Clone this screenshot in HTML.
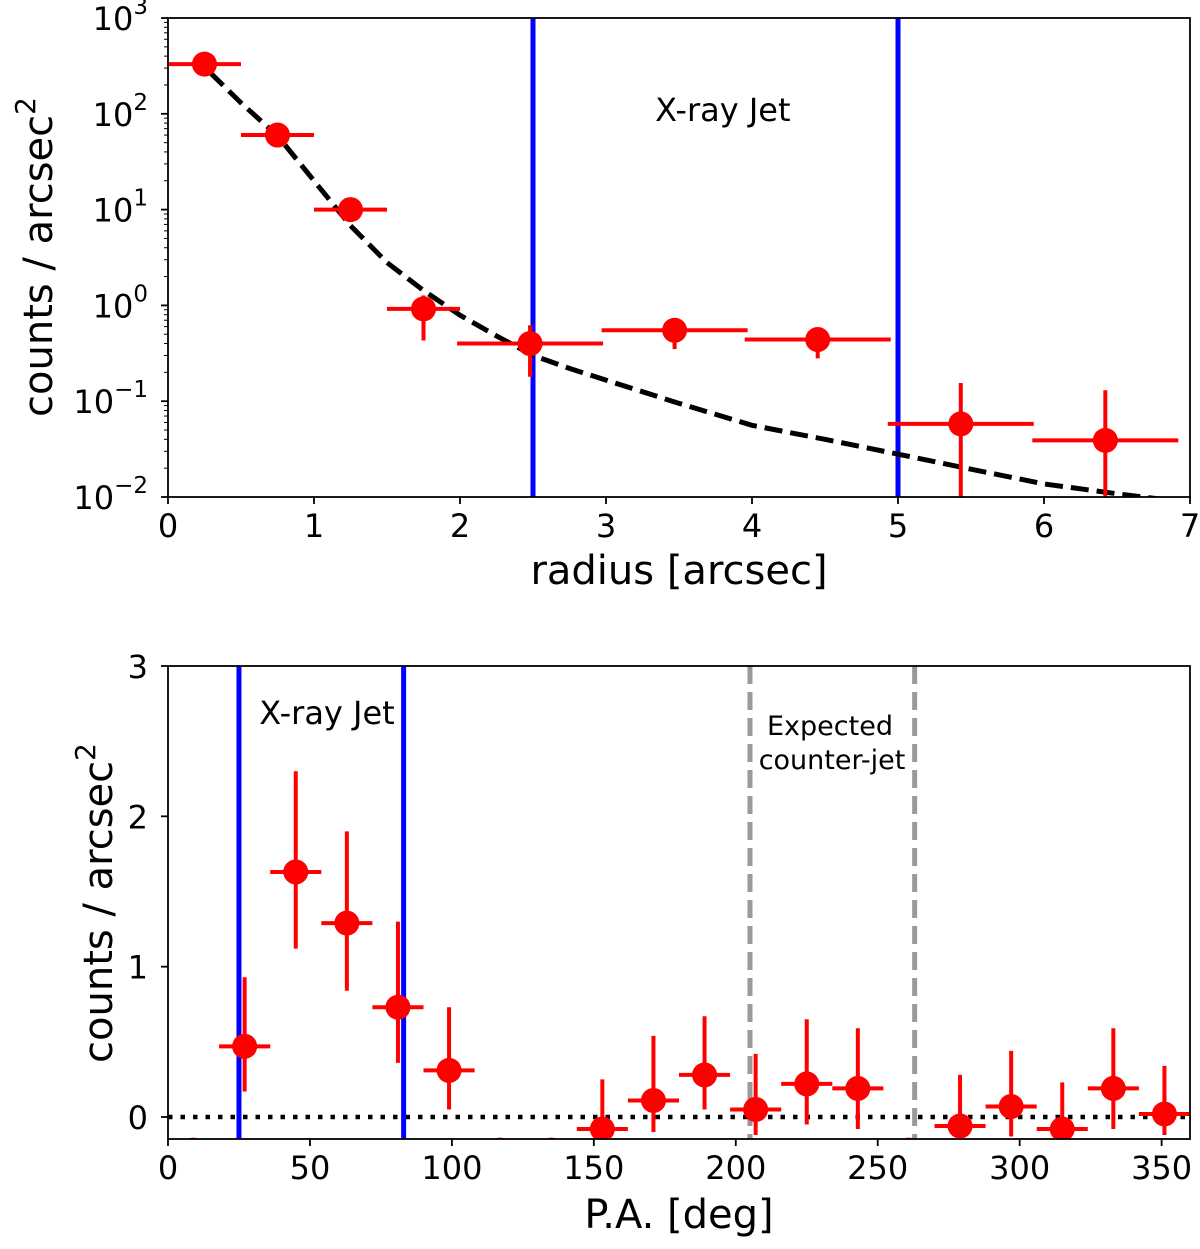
<!DOCTYPE html>
<html><head><meta charset="utf-8"><style>
body{margin:0;background:#fff}
svg{display:block;font-family:"DejaVu Sans","Liberation Sans",sans-serif}
</style></head><body>
<svg id="s" width="1200" height="1249" viewBox="0 0 1200 1249"></svg>
<script>
// Top panel data
const rX=[0.25,0.75,1.25,1.75,2.48,3.47,4.45,5.43,6.42];
const rXerr=[0.25,0.25,0.25,0.25,0.5,0.5,0.5,0.5,0.5];
const rY=[330,60,10,0.92,0.4,0.55,0.44,0.058,0.039];
const rLo=[300,52,8.5,0.43,0.18,0.35,0.28,0.005,0.005];
const rHi=[360,68,11.5,1.27,0.62,0.7,0.58,0.155,0.13];
const modelX=[0.29,0.5,0.75,1,1.25,1.5,1.75,2,2.25,2.5,2.75,3,3.5,4,4.5,5,5.5,6,6.5,6.8];
const modelY=[268,130,59,20,6.8,2.8,1.43,0.79,0.48,0.30,0.22,0.166,0.095,0.056,0.040,0.028,0.0195,0.0137,0.0108,0.0095];
const rXticks=[0,1,2,3,4,5,6,7];
const rYexp=[-2,-1,0,1,2,3];
// Bottom panel data
const pX=[9,27,45,63,81,99,117,135,153,171,189,207,225,243,261,279,297,315,333,351];
const pY=[-0.22,0.47,1.63,1.29,0.73,0.31,-0.22,-0.22,-0.08,0.11,0.28,0.05,0.22,0.19,-0.22,-0.06,0.07,-0.08,0.19,0.02];
const pLo=[-0.3,0.17,1.12,0.84,0.36,0.05,-0.3,-0.3,-0.3,-0.1,0.05,-0.12,-0.05,-0.08,-0.3,-0.3,-0.13,-0.3,-0.08,-0.12];
const pHi=[-0.2,0.93,2.3,1.9,1.3,0.73,-0.2,-0.2,0.25,0.54,0.67,0.42,0.65,0.59,-0.2,0.28,0.44,0.23,0.59,0.34];
const pXticks=[0,50,100,150,200,250,300,350];
const pYticks=[0,1,2,3];

const s=document.getElementById('s');const NS='http://www.w3.org/2000/svg';
function el(t,a,p){const e=document.createElementNS(NS,t);for(const k in a)e.setAttribute(k,a[k]);(p||s).appendChild(e);return e;}
function txt(x,y,str,size,anchor,name,p){const e=el('text',{x:x,y:y,'font-size':size,'text-anchor':anchor||'middle',fill:'#000'},p);e.textContent=str;return e;}
const TF=32, AF=40;

// ---- top
const L=168,R=1190,T1=18,B1=497;
const sx1=v=>L+(v/7)*(R-L);
const sy1=v=>B1-(Math.log10(v)+2)/5*(B1-T1);
el('defs',{}).innerHTML='<clipPath id="c1"><rect x="168" y="18" width="1022" height="479"/></clipPath><clipPath id="c2"><rect x="168" y="666" width="1022" height="473"/></clipPath>';
const g1=el('g',{'clip-path':'url(#c1)'});

[2.5,5].forEach(v=>{const l=el('line',{x1:sx1(v),x2:sx1(v),y1:T1,y2:B1,stroke:'#0000ff','stroke-width':5},g1);});
const mp=el('polyline',{points:modelX.map((x,i)=>sx1(x)+','+sy1(modelY[i])).join(' '),fill:'none',stroke:'#000','stroke-width':5,'stroke-dasharray':'18,8','stroke-linejoin':'round'},g1);

rX.forEach((x,i)=>{const g=el('g',{},g1);
el('line',{x1:sx1(x-rXerr[i]),x2:sx1(x+rXerr[i]),y1:sy1(rY[i]),y2:sy1(rY[i]),stroke:'#f00','stroke-width':4},g);
el('line',{x1:sx1(x),x2:sx1(x),y1:sy1(rLo[i]),y2:sy1(rHi[i]),stroke:'#f00','stroke-width':4},g);
el('circle',{cx:sx1(x),cy:sy1(rY[i]),r:12.5,fill:'#f00'},g);});
const f1=el('rect',{x:L,y:T1,width:R-L,height:B1-T1,fill:'none',stroke:'#000','stroke-width':1.8});
rXticks.forEach(v=>{el('line',{x1:sx1(v),x2:sx1(v),y1:B1,y2:B1+7,stroke:'#000','stroke-width':1.8});txt(sx1(v),537,String(v),TF,'middle','x-tick-label');});
rYexp.forEach(e=>{const y=sy1(Math.pow(10,e));el('line',{x1:L-7,x2:L,y1:y,y2:y,stroke:'#000','stroke-width':1.8});
 const t=txt(L-20,y+12,'',TF,'end','y-tick-label');t.innerHTML='10<tspan dy="-16" font-size="23">'+(e<0?'\u2212'+(-e):e)+'</tspan>';
 if(e<3)for(let k=2;k<10;k++){const yy=sy1(k*Math.pow(10,e));el('line',{x1:L-4,x2:L,y1:yy,y2:yy,stroke:'#000','stroke-width':1});}});
txt(sx1(3.8),121,'X-ray Jet',32,'middle','jet-annotation');
txt(sx1(3.5),584,'radius [arcsec]',AF,'middle','x-axis-title');
const yt1=txt(0,0,'',AF,'middle','y-axis-title');yt1.setAttribute('transform','translate(52,257) rotate(-90)');yt1.innerHTML='counts / arcsec<tspan dy="-17" font-size="28">2</tspan>';

// ---- bottom
const T2=666,B2=1139;
const sx2=v=>L+(v/360)*(R-L);
const sy2=v=>1117-v*(1117-666)/3;
const g2=el('g',{'clip-path':'url(#c2)'});

const zl=el('line',{x1:L,x2:R,y1:sy2(0),y2:sy2(0),stroke:'#000','stroke-width':4.5,'stroke-dasharray':'4.5,8'},g2);
[25,83].forEach(v=>{const l=el('line',{x1:sx2(v),x2:sx2(v),y1:T2,y2:B2,stroke:'#0000ff','stroke-width':5},g2);});
[205,263].forEach(v=>{const l=el('line',{x1:sx2(v),x2:sx2(v),y1:T2,y2:B2,stroke:'#999','stroke-width':5,'stroke-dasharray':'18,8'},g2);});
pX.forEach((x,i)=>{const g=el('g',{},g2);
el('line',{x1:sx2(x-9),x2:sx2(x+9),y1:sy2(pY[i]),y2:sy2(pY[i]),stroke:'#f00','stroke-width':4},g);
el('line',{x1:sx2(x),x2:sx2(x),y1:sy2(pLo[i]),y2:sy2(pHi[i]),stroke:'#f00','stroke-width':4},g);
el('circle',{cx:sx2(x),cy:sy2(pY[i]),r:12.5,fill:'#f00'},g);});
const f2=el('rect',{x:L,y:T2,width:R-L,height:B2-T2,fill:'none',stroke:'#000','stroke-width':1.8});
pXticks.forEach(v=>{el('line',{x1:sx2(v),x2:sx2(v),y1:B2,y2:B2+7,stroke:'#000','stroke-width':1.8});txt(sx2(v),1179,String(v),TF,'middle','x-tick-label');});
pYticks.forEach(v=>{el('line',{x1:L-7,x2:L,y1:sy2(v),y2:sy2(v),stroke:'#000','stroke-width':1.8});txt(L-20,sy2(v)+12,String(v),TF,'end','y-tick-label');});
txt(327,724,'X-ray Jet',32,'middle','jet-annotation');
txt(830,735,'Expected',27,'middle','counter-jet-annotation');
txt(832,769,'counter-jet',27,'middle','counter-jet-annotation');
txt(sx2(180),1228,'P.A. [deg]',AF,'middle','x-axis-title');
const yt2=txt(0,0,'',AF,'middle','y-axis-title');yt2.setAttribute('transform','translate(112,903) rotate(-90)');yt2.innerHTML='counts / arcsec<tspan dy="-17" font-size="28">2</tspan>';
</script>
</body></html>
